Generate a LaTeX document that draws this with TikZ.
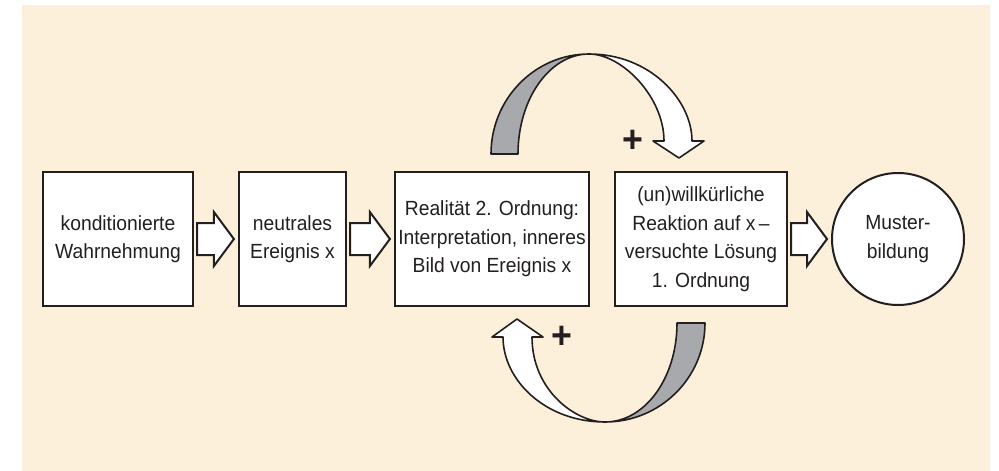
\documentclass[tikz,border=0pt]{standalone}
\usepackage{fontspec}
\setmainfont{Liberation Sans}[FakeStretch=0.94]
\usetikzlibrary{calc}

\definecolor{paper}{HTML}{FDF0DA}
\definecolor{ink}{HTML}{231F20}
\definecolor{ribbon}{HTML}{A7A9AC}

\tikzset{
  labelfont/.style={font=\fontsize{20.5}{28.5}\selectfont, text=ink},
  stepbox/.style={rectangle, draw=ink, line width=2.2pt, fill=white,
    minimum height=134pt, inner sep=0pt, align=center, labelfont},
  endcircle/.style={circle, draw=ink, line width=2pt, fill=white,
    minimum size=132pt, inner sep=0pt, align=center, labelfont},
  blockarrow/.style={draw=ink, line width=2pt, fill=white, line join=miter},
  loopband/.style={draw=ink, line width=1.6pt, line join=round},
  sign/.style={text=ink, font=\fontsize{38}{38}\selectfont\bfseries, inner sep=0pt},
}

% hollow block arrow from the east side of #1 to the west side of #2
\newcommand\flowarrow[2]{%
  \draw[blockarrow] let \p1=($(#1.east)+(3,0)$), \p2=($(#2.west)+(-4,0)$) in
    ({\x1},{\y1+16pt}) -- ({\x2-20pt},{\y1+16pt}) -- ({\x2-20pt},{\y1+27pt})
    -- ({\x2},{\y1}) -- ({\x2-20pt},{\y1-27pt}) -- ({\x2-20pt},{\y1-16pt})
    -- ({\x1},{\y1-16pt}) -- cycle;}

\begin{document}
\begin{tikzpicture}[x=1pt, y=-1pt]
  \useasboundingbox (0,0) rectangle (999,471);
  \fill[paper] (22,5) rectangle (990,471);

  % process steps
  \node[stepbox, minimum width=150pt] (perc) at (118,239)
    {konditionierte\\Wahrnehmung};
  \node[stepbox, minimum width=107pt] (event) at (292.5,239)
    {neutrales\\Ereignis x};
  \node[stepbox, minimum width=194pt] (real) at (492,239)
    {Realität 2. Ordnung:\\Interpretation, inneres\\Bild von Ereignis x};
  \node[stepbox, minimum width=172pt] (react) at (701,239)
    {(un)willkürliche\\Reaktion auf x\,–\\versuchte Lösung\\1. Ordnung};
  \node[endcircle] (pattern) at (898,239) {Muster-\\bildung};

  % forward arrows
  \flowarrow{perc}{event}
  \flowarrow{event}{real}
  \flowarrow{react}{pattern}

  % upper feedback loop: from the interpretation over to the reaction
  \draw[loopband, fill=ribbon] (491,154) .. controls (491,98.8) and (534.9,54) .. (589,54)
    .. controls (549.8,54) and (518,98.8) .. (518,154) -- cycle;
  \draw[loopband, fill=white] (664,141) -- (653,141) -- (679,158) -- (704,141) -- (692,141)
    .. controls (692,100) and (650,54) .. (589,54)
    .. controls (622,54) and (664,97) .. (664,141) -- cycle;
  \node[sign] (plusUp) at (633,141) {+};

  % lower feedback loop: from the reaction back to the interpretation
  \draw[loopband, fill=ribbon] (705,323) .. controls (705,378) and (660,422) .. (605,422)
    .. controls (645,422) and (677,378) .. (677,323) -- cycle;
  \draw[loopband, fill=white] (532,337) -- (543,337) -- (517,319) -- (492,337) -- (503,337)
    .. controls (503,380) and (545,422) .. (605,422)
    .. controls (575,422) and (532,390) .. (532,337) -- cycle;
  \node[sign] (plusDown) at (562,337) {+};
\end{tikzpicture}
\end{document}
